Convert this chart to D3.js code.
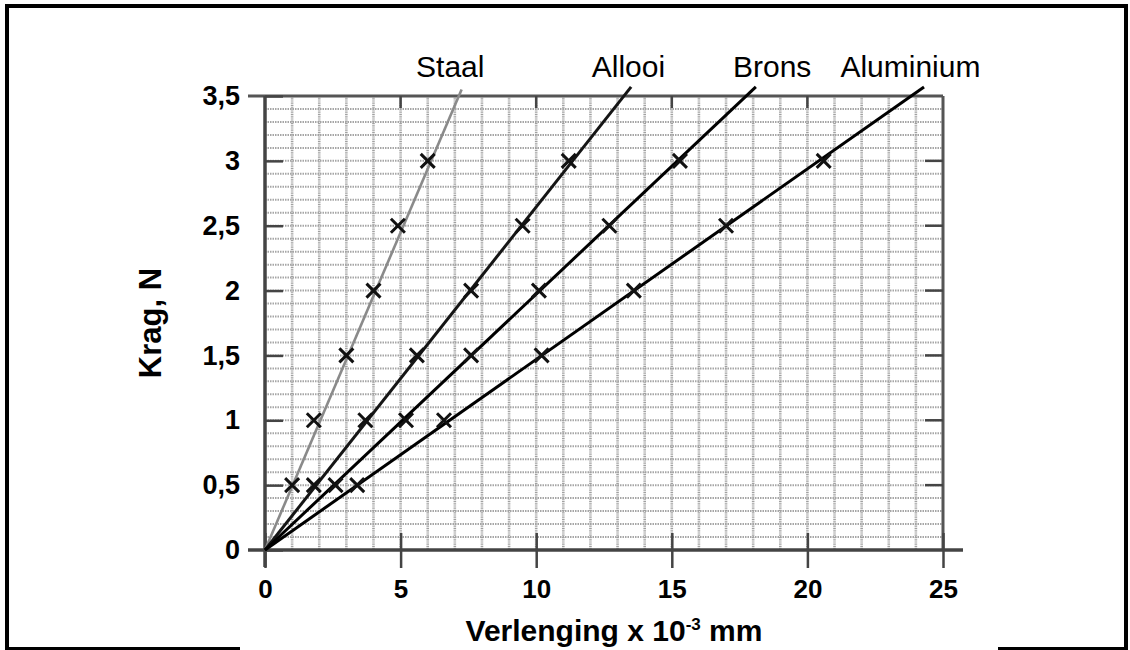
<!DOCTYPE html>
<html>
<head>
<meta charset="utf-8">
<script src="https://cdn.jsdelivr.net/npm/d3@7"></script>
<style>
  body { margin: 0; padding: 0; background: #fff; overflow: hidden; }
  text { font-family: "Liberation Sans", Arial, sans-serif; }
</style>
</head>
<body>
<script>
// measured loads (N) and extensions (x 10^-3 mm)
const forces = [0.5, 1, 1.5, 2, 2.5, 3];
const staal = [1.0, 1.8, 3.0, 4.0, 4.9, 6.0];
const allooi = [1.8, 3.7, 5.6, 7.6, 9.5, 11.2];
const brons = [2.6, 5.2, 7.6, 10.1, 12.7, 15.3];
const aluminium = [3.4, 6.6, 10.2, 13.6, 17.0, 20.6];

// fitted lines, from origin to the end drawn above the plot
const lineNames = ["Staal", "Allooi", "Brons", "Aluminium"];
const lineEndX = [7.25, 13.5, 18.1, 24.3];
const lineEndY = [3.55, 3.57, 3.57, 3.57];
const labelX = [6.83, 13.4, 18.7, 23.8];

const xTicks = [0, 5, 10, 15, 20, 25];
const yTicks = [0, 0.5, 1, 1.5, 2, 2.5, 3, 3.5];

const W = 1130, H = 650;
const svg = d3.select("body").append("svg").attr("width", W).attr("height", H);

const x = d3.scaleLinear().domain([0, 25]).range([265, 943]);
const y = d3.scaleLinear().domain([0, 3.5]).range([550, 96]);

// outer frame
svg.append("path")
  .attr("d", "M240,649 L7,649 L7,6 L1126,6 L1126,649 L998,649")
  .attr("fill", "none").attr("stroke", "#000").attr("stroke-width", 4);

// grid
const grid = svg.append("g");
grid.selectAll("line.h").data(d3.range(1, 35).map(d => d / 10))
  .enter().append("line")
  .attr("x1", x(0)).attr("x2", x(25))
  .attr("y1", d => y(d)).attr("y2", d => y(d))
  .attr("stroke", "#a6a6a6").attr("stroke-width", 2)
  .attr("stroke-dasharray", "1.5,1");
grid.selectAll("line.v").data(d3.range(1, 25))
  .enter().append("line")
  .attr("x1", d => x(d)).attr("x2", d => x(d))
  .attr("y1", y(3.5)).attr("y2", y(0))
  .attr("stroke", "#a0a0a0").attr("stroke-width", 2.6)
  .attr("stroke-dasharray", "1,0.8");

// plot border (top and right)
svg.append("line").attr("x1", 248).attr("x2", x(25))
  .attr("y1", y(3.5)).attr("y2", y(3.5))
  .attr("stroke", "#555").attr("stroke-width", 3);
svg.append("line").attr("x1", x(25)).attr("x2", x(25))
  .attr("y1", y(3.5)).attr("y2", y(0))
  .attr("stroke", "#555").attr("stroke-width", 3);

// inner ticks on top and right
svg.append("g").selectAll("line").data(xTicks.slice(1, 5))
  .enter().append("line")
  .attr("x1", d => x(d)).attr("x2", d => x(d))
  .attr("y1", y(3.5)).attr("y2", y(3.5) + 12)
  .attr("stroke", "#444").attr("stroke-width", 2.5);
svg.append("g").selectAll("line").data(yTicks.slice(1, 7))
  .enter().append("line")
  .attr("x1", x(25) - 18).attr("x2", x(25))
  .attr("y1", d => y(d)).attr("y2", d => y(d))
  .attr("stroke", "#444").attr("stroke-width", 2.5);

// x axis
const xAxis = svg.append("g").attr("transform", `translate(0,${y(0)})`)
  .call(d3.axisBottom(x).tickValues(xTicks).tickSize(18).tickPadding(12));
xAxis.select(".domain").remove();
xAxis.selectAll(".tick line").attr("y1", -17).attr("stroke", "#444").attr("stroke-width", 2.5);
xAxis.append("line").attr("x1", 248).attr("x2", 963)
  .attr("stroke", "#444").attr("stroke-width", 3.5);
xAxis.selectAll(".tick text").attr("fill", "#000")
  .style("font-size", "26px").style("font-weight", "bold");

// y axis
const yAxis = svg.append("g").attr("transform", `translate(${x(0)},0)`)
  .call(d3.axisLeft(y).tickValues(yTicks).tickSize(17).tickPadding(8)
    .tickFormat(d => String(d).replace(".", ",")));
yAxis.select(".domain").remove();
yAxis.selectAll(".tick line").attr("x2", 18).attr("stroke", "#444").attr("stroke-width", 2.5);
yAxis.append("line").attr("y1", y(3.5)).attr("y2", y(0) + 17)
  .attr("stroke", "#444").attr("stroke-width", 3.5);
yAxis.selectAll(".tick text").attr("fill", "#000")
  .style("font-size", "27px").style("font-weight", "bold");

// axis titles
svg.append("text")
  .attr("transform", `translate(161,${y(1.75)}) rotate(-90)`)
  .attr("text-anchor", "middle")
  .style("font-size", "31px").style("font-weight", "bold")
  .text("Krag, N");
const xt = svg.append("text")
  .attr("x", 614).attr("y", 641).attr("text-anchor", "middle")
  .style("font-size", "30px").style("font-weight", "bold");
xt.append("tspan").text("Verlenging x 10");
xt.append("tspan").attr("dy", -11).style("font-size", "17px").text("-3");
xt.append("tspan").attr("dy", 11).text(" mm");

// fitted lines
const lineColors = ["#8a8a8a", "#151515", "#000", "#000"];
svg.append("g").selectAll("line").data(lineNames)
  .enter().append("line")
  .attr("x1", x(0)).attr("y1", y(0))
  .attr("x2", (d, i) => x(lineEndX[i])).attr("y2", (d, i) => y(lineEndY[i]))
  .attr("stroke", (d, i) => lineColors[i])
  .attr("stroke-width", (d, i) => i === 0 ? 2.6 : 3);

// series labels
svg.append("g").selectAll("text").data(lineNames)
  .enter().append("text")
  .attr("x", (d, i) => x(labelX[i])).attr("y", 77)
  .attr("text-anchor", "middle")
  .style("font-size", "30px")
  .text(d => d);

// measured points as crosses
const series = [staal, allooi, brons, aluminium];
const pts = [];
series.forEach(s => s.forEach((v, i) => pts.push([v, forces[i]])));
const cross = svg.append("g");
const r = 7;
cross.selectAll("path").data(pts)
  .enter().append("path")
  .attr("d", d => {
    const cx = x(d[0]), cy = y(d[1]);
    return `M${cx - r},${cy - r}L${cx + r},${cy + r}M${cx - r},${cy + r}L${cx + r},${cy - r}`;
  })
  .attr("stroke", "#111").attr("stroke-width", 3).attr("fill", "none");
</script>
</body>
</html>
